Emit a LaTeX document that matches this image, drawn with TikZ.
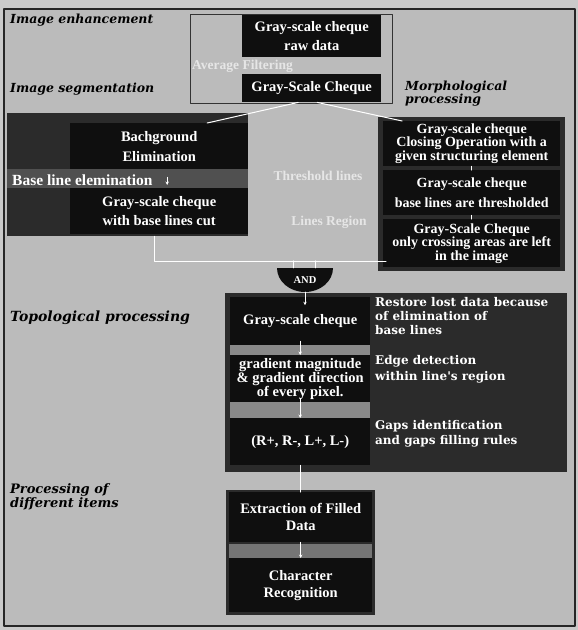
\documentclass[tikz,border=0pt]{standalone}
\usepackage{fontspec}
\setmainfont{Liberation Serif}
\newfontfamily\stagefont{DejaVu Serif}
\usetikzlibrary{positioning,arrows.meta}

\definecolor{margin}{HTML}{CACACA}
\definecolor{paper}{HTML}{BBBBBB}
\definecolor{slab}{HTML}{2B2B2B}
\definecolor{ink}{HTML}{0F0F0F}
\definecolor{seam}{HTML}{505050}
\definecolor{gap}{HTML}{8A8A8A}
\definecolor{ghost}{HTML}{E6E6E6}

\tikzset{
  slabbox/.style={fill=slab, draw=none, inner sep=0pt, anchor=north west},
  inkbox/.style={fill=ink, text=white, inner sep=0pt, anchor=north west, align=center,
                 font=\bfseries\fontsize{14.5}{19}\selectfont},
  gapbox/.style={fill=gap, inner sep=0pt, anchor=north west},
  stage/.style={anchor=west, inner sep=0pt, align=left, text=black,
                font=\stagefont\bfseries\itshape\fontsize{12.5}{13}\selectfont},
  note/.style={anchor=north west, inner sep=0pt, align=left, text=white,
               font=\stagefont\bfseries\fontsize{12}{14}\selectfont},
  ghosttxt/.style={inner sep=0pt, text=ghost, font=\bfseries\fontsize{13.5}{15}\selectfont},
  wire/.style={draw=white, line width=1pt},
  flow/.style={draw=white, line width=1pt, -{Stealth[length=3.5pt,width=3.5pt]}},
}

\begin{document}
\begin{tikzpicture}[x=1pt, y=-1pt, line cap=round, line join=round]

  %% ════ paper + frame ════
  \fill[margin] (0,0) rectangle (578,630);
  \fill[paper] (4,9) rectangle (575,626);
  \draw[line width=1.2pt, black!85] (4,9) rectangle (575,626);

  %% ════ stage labels ════
  \node[stage] (lblEnh) at (10,20) {Image enhancement};
  \node[stage] (lblSeg) at (10,89) {Image segmentation};
  \node[stage, anchor=north west] (lblMor) at (405,81) {Morphological\\processing};
  \node[stage, font=\stagefont\bfseries\itshape\fontsize{14}{14}\selectfont] (lblTop) at (10,318) {Topological processing};
  \node[stage, anchor=north west, font=\stagefont\bfseries\itshape\fontsize{13}{14}\selectfont] (lblItm) at (10,483) {Processing of\\different items};

  %% ════ image enhancement ════
  \draw[line width=0.7pt, black!80] (190,14) rectangle (392,103);
  \node[inkbox, minimum width=139pt, minimum height=42pt] (raw) at (242,15) {Gray-scale cheque\\raw data};
  \node[ghosttxt, anchor=west] (avg) at (192,66) {Average Filtering};
  \node[inkbox, minimum width=139pt, minimum height=28pt] (gsc) at (242,74) {Gray-Scale Cheque};

  %% ════ segmentation (left) ════
  \node[slabbox, minimum width=241pt, minimum height=123pt] (segslab) at (7,113) {};
  \node[inkbox, minimum width=178pt, minimum height=46pt,
        font=\bfseries\fontsize{14.5}{20}\selectfont] (bgelim) at (70,123) {Bachground\\Elimination};
  \node[fill=seam, inner sep=0pt, anchor=north west, minimum width=241pt, minimum height=19pt] (segseam) at (7,169) {};
  \node[anchor=west, inner sep=0pt, text=white, font=\bfseries\fontsize{15.5}{17}\selectfont] (baseline) at (12,180) {Base line elemination};
  \node[inkbox, minimum width=178pt, minimum height=46pt] (basecut) at (70,188) {Gray-scale cheque\\with base lines cut};
  \draw[flow, shorten <=8pt, shorten >=3pt] ([xshift=8pt]bgelim.south) -- ([xshift=8pt]basecut.north);

  %% ════ morphological (right) ════
  \node[slabbox, minimum width=187pt, minimum height=154pt] (morslab) at (378,117) {};
  \node[inkbox, minimum width=177pt, minimum height=45pt,
        font=\bfseries\fontsize{14}{12}\selectfont] (closing) at (383,121) {Gray-scale cheque\\Closing Operation with a\\given structuring element};
  \node[inkbox, minimum width=177pt, minimum height=45pt,
        font=\bfseries\fontsize{14}{20}\selectfont] (thresh) at (383,170) {Gray-scale cheque\\base lines are thresholded};
  \node[inkbox, minimum width=177pt, minimum height=48pt,
        font=\bfseries\fontsize{14}{13.5}\selectfont] (cross) at (383,219) {Gray-Scale Cheque\\only crossing areas are left\\in the image};
  \draw[wire] (closing.south) -- (thresh.north);
  \draw[wire] (thresh.south) -- (cross.north);

  %% ════ fan out from the cheque ════
  \draw[wire] ([xshift=-13.5pt]gsc.south) -- ([xshift=48pt]bgelim.north);
  \draw[wire] ([xshift=5.5pt]gsc.south) -- ([xshift=-69.5pt]closing.north);

  \node[ghosttxt] (thrlbl) at (318,176) {Threshold lines};
  \node[ghosttxt] (linlbl) at (329,222) {Lines Region};

  %% ════ join into AND ════
  \coordinate (joinR) at (386,261);
  \draw[wire] ([xshift=26.5pt]segslab.south) |- (joinR);
  \fill[ink] (277,268) arc[start angle=180, end angle=0, x radius=28, y radius=24] -- cycle;
  \node[inner sep=0pt, minimum width=56pt, minimum height=24pt, text=white,
        font=\bfseries\fontsize{10.5}{12}\selectfont] (andgate) at (305,280) {AND};
  \draw[wire] ([xshift=-12pt]andgate.north) -- ++(0,-7);
  \draw[wire] ([xshift=10pt]andgate.north) -- ++(0,-7);

  %% ════ topological ════
  \node[slabbox, minimum width=342pt, minimum height=179pt] (topslab) at (225,293) {};
  \node[gapbox, minimum width=140pt, minimum height=10pt] (gapA) at (230,345) {};
  \node[gapbox, minimum width=140pt, minimum height=16pt] (gapB) at (230,402) {};
  \node[inkbox, minimum width=140pt, minimum height=48pt] (topgsc) at (230,297) {Gray-scale cheque};
  \node[inkbox, minimum width=140pt, minimum height=47pt,
        font=\bfseries\fontsize{14.5}{14}\selectfont] (gradient) at (230,355) {gradient magnitude\\\& gradient direction\\of every pixel.};
  \node[inkbox, minimum width=140pt, minimum height=47pt] (rules) at (230,418) {(R+, R-, L+, L-)};
  \node[note] (restore) at (375,297) {Restore lost data because\\of elimination of\\base lines};
  \node[note, font=\stagefont\bfseries\fontsize{12}{16}\selectfont] (edge) at (375,355) {Edge detection\\within line's region};
  \node[note, font=\stagefont\bfseries\fontsize{12}{15}\selectfont] (gaps) at (375,420) {Gaps identification\\and gaps filling rules};

  \draw[flow] (andgate.south) -- ++(0,13);
  \draw[flow, shorten <=-4pt] (topgsc.south) -- (gradient.north);
  \draw[flow, shorten <=-4pt] (gradient.south) -- (rules.north);

  %% ════ different items ════
  \node[slabbox, minimum width=149pt, minimum height=125pt] (itmslab) at (226,490) {};
  \node[inkbox, minimum width=143pt, minimum height=50pt,
        font=\bfseries\fontsize{14.5}{17}\selectfont] (extract) at (229,492) {Extraction of Filled\\Data};
  \node[gapbox, fill=gap!85!black, minimum width=143pt, minimum height=14pt] (itmgap) at (229,544) {};
  \node[inkbox, minimum width=143pt, minimum height=54pt,
        font=\bfseries\fontsize{14.5}{17}\selectfont] (charrec) at (229,558) {Character\\Recognition};
  \draw[wire] (rules.south) -- (rules.south |- extract.north);
  \draw[flow] (extract.south) -- (charrec.north);

  \pgfresetboundingbox
  \path[use as bounding box] (0,0) rectangle (578,630);
\end{tikzpicture}
\end{document}
